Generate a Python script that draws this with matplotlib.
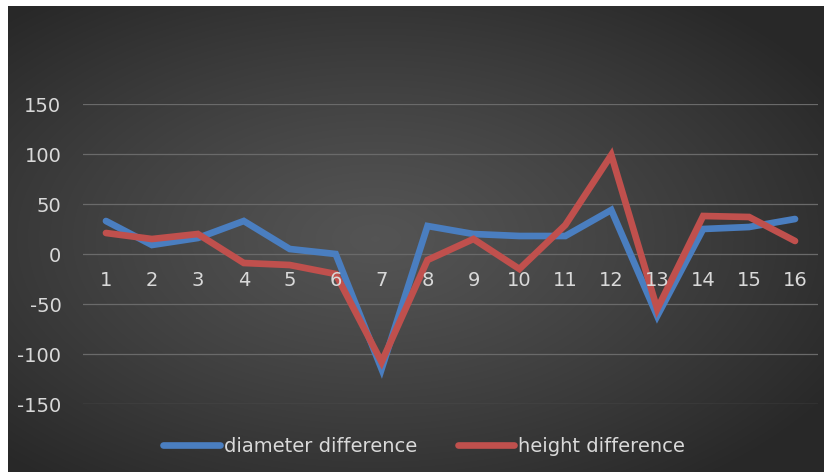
import numpy as np
import matplotlib
matplotlib.use("Agg")
import matplotlib.pyplot as plt

categories = [str(i) for i in range(1, 17)]
diameter_diff = [33, 9, 16, 33, 5, 0, -115, 28, 20, 18, 18, 44, -62, 25, 27, 35]
height_diff = [21, 15, 20, -9, -11, -20, -108, -6, 15, -15, 29, 99, -55, 38, 37, 13]
y_ticks = [-150, -100, -50, 0, 50, 100, 150]

W, H = 824, 472
fig = plt.figure(figsize=(W / 100, H / 100), dpi=100)
fig.patch.set_facecolor("white")

# dark radial-gradient chart background
bg = fig.add_axes([8 / W, 0, (W - 8) / W, (H - 6) / H])
bg.set_axis_off()
gx, gy = np.meshgrid(np.linspace(-1, 1, 400), np.linspace(-1, 1, 240))
r = np.clip(np.sqrt((gx + 0.1) ** 2 + gy ** 2) / 1.3, 0, 1)
lo, hi = 0.16, 0.33
shade = hi - (hi - lo) * r ** 1.2
img = np.dstack([shade, shade, shade])
bg.imshow(img, extent=[0, 1, 0, 1], aspect="auto", interpolation="bilinear")
bg.set_xlim(0, 1)
bg.set_ylim(0, 1)

ax = fig.add_axes([83 / W, (H - 404) / H, 735 / W, 300 / H])
ax.patch.set_alpha(0)
x = np.arange(len(categories))
ax.set_xlim(-0.5, len(categories) - 0.5)
ax.set_ylim(-150, 150)

for v in y_ticks:
    ax.axhline(v, color="#6a6a6a", lw=0.9, zorder=1)

blue = "#4a7ec0"
red = "#c0504d"
ax.plot(x, diameter_diff, color=blue, lw=4.8, solid_joinstyle="miter",
        solid_capstyle="round", zorder=3, label="diameter difference")
ax.plot(x, height_diff, color=red, lw=4.8, solid_joinstyle="miter",
        solid_capstyle="round", zorder=4, label="height difference")

for s in ax.spines.values():
    s.set_visible(False)

txt = "#d9d9d9"
fs = 14
ax.set_yticks(y_ticks)
ax.set_yticklabels([str(v) for v in y_ticks])
ax.tick_params(axis="y", length=0, pad=15.5, labelcolor=txt, labelsize=fs)
ax.set_xticks([])
for xi, lab in zip(x, categories):
    ax.text(xi, -26, lab, ha="center", va="center", color=txt, fontsize=fs,
            zorder=5)

leg = fig.legend(loc="center", bbox_to_anchor=(424 / W, 1 - 446 / H), ncol=2,
                 frameon=False, fontsize=fs, handlelength=2.9,
                 handletextpad=0.2, columnspacing=2.1)
for t in leg.get_texts():
    t.set_color(txt)

fig.savefig("out.png", dpi=100, facecolor=fig.get_facecolor())
